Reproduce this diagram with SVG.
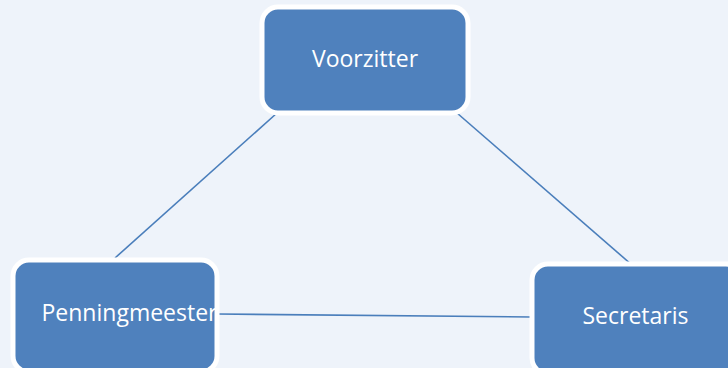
<svg xmlns="http://www.w3.org/2000/svg" width="728" height="368" viewBox="0 0 728 368">
<style>
.box{fill:#4F81BD;stroke:#FFFFFF;stroke-width:5}
.lbl{fill:#FFFFFF;font-family:"Open Sans","Noto Sans",sans-serif;font-size:23px;text-anchor:middle}
.conn{stroke:#4A7EBB;stroke-width:1.6;fill:none}
</style>
<rect x="0" y="0" width="728" height="368" fill="#EEF3FA"/>
<g id="connectors">
<line class="conn" x1="277" y1="113" x2="115" y2="258"/>
<line class="conn" x1="457" y1="113" x2="632" y2="265"/>
<line class="conn" x1="217" y1="314" x2="531" y2="317"/>
</g>
<g id="voorzitter">
<rect class="box" x="262" y="7" width="206" height="106" rx="16"/>
<text class="lbl" x="365" y="67">Voorzitter</text>
</g>
<g id="penningmeester">
<rect class="box" x="13" y="260" width="204" height="112" rx="16"/>
<text class="lbl" x="129.5" y="321">Penningmeester</text>
</g>
<g id="secretaris">
<rect class="box" x="532" y="264" width="210" height="110" rx="16"/>
<text class="lbl" x="635.5" y="324">Secretaris</text>
</g>
</svg>
